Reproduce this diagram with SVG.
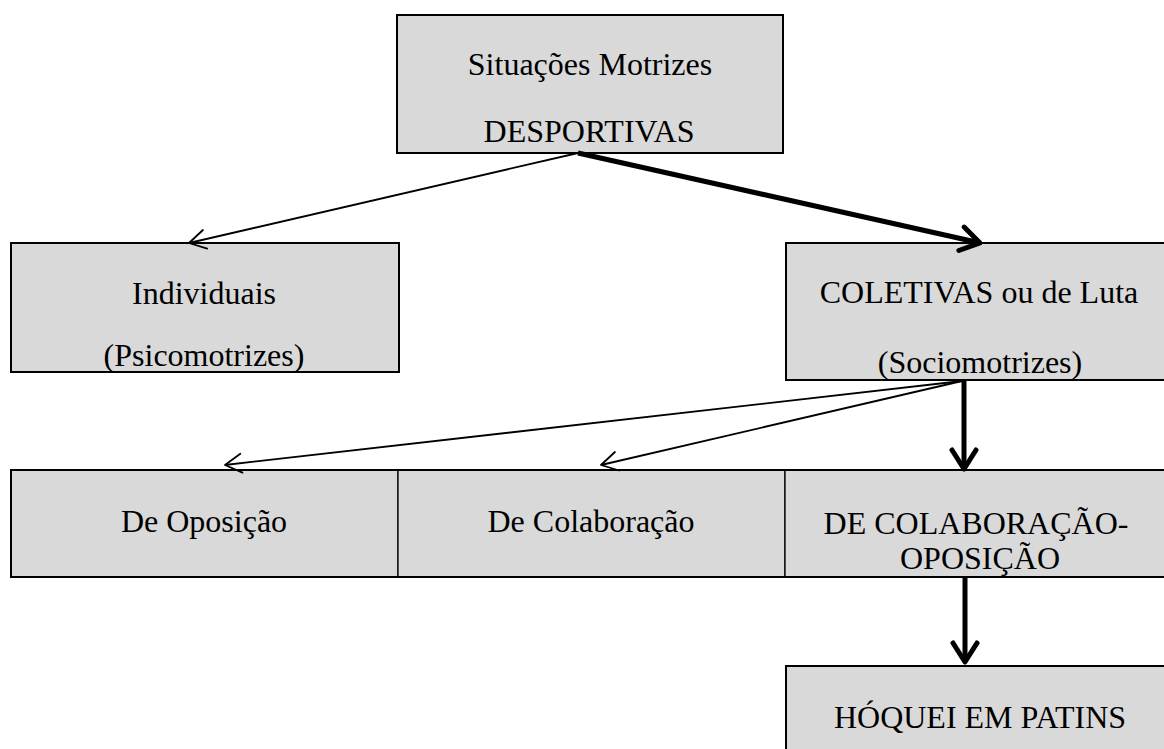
<svg xmlns="http://www.w3.org/2000/svg" width="1164" height="749" viewBox="0 0 1164 749">
<style>
.box{fill:#d9d9d9;stroke:#000;stroke-width:2}
.cell{fill:#d9d9d9;stroke:#000;stroke-width:1.3}
.frame{fill:none;stroke:#000;stroke-width:2}
text{font-family:"Liberation Serif","Times New Roman",serif;font-size:32px;fill:#000;text-anchor:middle}
.thin{fill:none;stroke:#000;stroke-width:1.8}
.thick{fill:none;stroke:#000;stroke-width:5}
</style>
<defs>
<marker id="vThin" markerUnits="userSpaceOnUse" markerWidth="40" markerHeight="40" refX="0" refY="0" orient="auto" overflow="visible">
<path d="M -16.5 -9.5 L 0 0 L -16.5 9.5" fill="none" stroke="#000" stroke-width="1.8" stroke-linecap="round" stroke-linejoin="round"/>
</marker>
<marker id="vThick" markerUnits="userSpaceOnUse" markerWidth="50" markerHeight="50" refX="-3" refY="0" orient="auto" overflow="visible">
<path d="M -19 -12 L 0 0 L -19 12" fill="none" stroke="#000" stroke-width="5" stroke-linecap="round" stroke-linejoin="round"/>
</marker>
</defs>
<rect width="1164" height="749" fill="#fff"/>
<g id="node-situacoes">
<rect class="box" x="397" y="15" width="386" height="138"/>
<text x="590" y="75">Situações Motrizes</text>
<text x="589" y="142">DESPORTIVAS</text>
</g>
<g id="node-individuais">
<rect class="box" x="11" y="243" width="388" height="129"/>
<text x="204" y="304">Individuais</text>
<text x="204" y="366">(Psicomotrizes)</text>
</g>
<g id="node-coletivas">
<rect class="box" x="786" y="243" width="390" height="137"/>
<text x="979" y="303">COLETIVAS ou de Luta</text>
<text x="980" y="373">(Sociomotrizes)</text>
</g>
<g id="node-oposicao">
<rect class="cell" x="11" y="470" width="387" height="107"/>
<text x="204" y="532">De Oposição</text>
</g>
<g id="node-colaboracao">
<rect class="cell" x="398" y="470" width="387" height="107"/>
<text x="591" y="532">De Colaboração</text>
</g>
<g id="node-colab-oposicao">
<rect class="cell" x="785" y="470" width="391" height="107"/>
<text x="976" y="534">DE COLABORAÇÃO-</text>
<text x="980" y="569">OPOSIÇÃO</text>
</g>
<g id="row-frame">
<rect class="frame" x="11" y="470" width="1165" height="107"/>
</g>
<g id="node-hoquei">
<rect class="box" x="786" y="666" width="390" height="100"/>
<text x="980" y="728">HÓQUEI EM PATINS</text>
</g>
<g id="connectors">
<line class="thin" x1="578" y1="153" x2="189" y2="243" marker-end="url(#vThin)"/>
<line class="thick" x1="578" y1="153" x2="977.1" y2="242.3" marker-end="url(#vThick)"/>
<line class="thin" x1="962" y1="381" x2="225" y2="465" marker-end="url(#vThin)"/>
<line class="thin" x1="962" y1="381" x2="601" y2="465" marker-end="url(#vThin)"/>
<line class="thick" x1="964" y1="381" x2="964" y2="466" marker-end="url(#vThick)"/>
<line class="thick" x1="965" y1="577" x2="965" y2="659" marker-end="url(#vThick)"/>
</g>
</svg>
